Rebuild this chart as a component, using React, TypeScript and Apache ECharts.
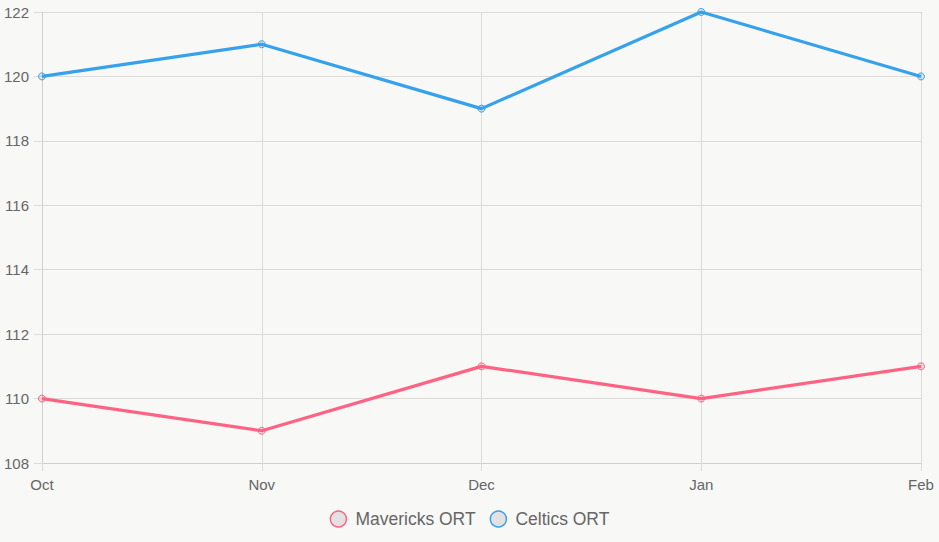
import React, { useEffect, useRef } from "react";
import * as echarts from "echarts";

const categories = ["Oct", "Nov", "Dec", "Jan", "Feb"];
const mavericks = [110, 109, 111, 110, 111];
const celtics = [120, 121, 119, 122, 120];
const yMin = 108;
const yMax = 122;
const yInterval = 2;

export default function App() {
  const ref = useRef<HTMLDivElement>(null);
  useEffect(() => {
    if (!ref.current) return;
    const chart = echarts.init(ref.current, null, { renderer: "svg" });
    const font = "'Liberation Sans', Arial, Helvetica, sans-serif";
    chart.setOption({
      animation: false,
      backgroundColor: "#f8f8f6",
      textStyle: { fontFamily: font },
      grid: { left: 42, right: 18, top: 12, bottom: 79, containLabel: false },
      legend: {
        bottom: 9,
        left: "center",
        itemWidth: 16,
        itemHeight: 16,
        itemGap: 14,
        icon: "circle",
        textStyle: { color: "#666", fontSize: 17.5, fontFamily: font, padding: [0, 0, 0, 4] },
        data: [
          { name: "Mavericks ORT", itemStyle: { color: "#e2e2e2", borderColor: "#ff6384", borderWidth: 1.5 } },
          { name: "Celtics ORT", itemStyle: { color: "#e2e2e2", borderColor: "#36a2eb", borderWidth: 1.5 } },
        ],
      },
      xAxis: {
        type: "category",
        data: categories,
        boundaryGap: false,
        axisLine: { show: true, lineStyle: { color: "#cfcfcf", width: 1 } },
        axisTick: { show: true, length: 8, lineStyle: { color: "#dcdcdc" } },
        splitLine: { show: true, lineStyle: { color: "#dcdcdc", width: 1 } },
        axisLabel: { color: "#666", fontSize: 15, margin: 14, fontFamily: font },
      },
      yAxis: {
        type: "value",
        min: yMin,
        max: yMax,
        interval: yInterval,
        axisLine: { show: true, lineStyle: { color: "#cfcfcf", width: 1 } },
        axisTick: { show: true, length: 8, lineStyle: { color: "#dcdcdc" } },
        splitLine: { show: true, lineStyle: { color: "#dcdcdc", width: 1 } },
        axisLabel: { color: "#666", fontSize: 15, margin: 13, fontFamily: font },
      },
      series: [
        {
          name: "Mavericks ORT",
          type: "line",
          data: mavericks,
          symbol: "circle",
          symbolSize: 7,
          lineStyle: { color: "#ff6384", width: 3.2 },
          itemStyle: { color: "rgba(255,99,132,0.2)", borderColor: "#ff6384", borderWidth: 1 },
        },
        {
          name: "Celtics ORT",
          type: "line",
          data: celtics,
          symbol: "circle",
          symbolSize: 7,
          lineStyle: { color: "#36a2eb", width: 3.2 },
          itemStyle: { color: "rgba(54,162,235,0.2)", borderColor: "#36a2eb", borderWidth: 1 },
        },
      ],
    });
    return () => chart.dispose();
  }, []);
  return (
    <div
      ref={ref}
      style={{ position: "fixed", left: 0, top: 0, width: 939, height: 542 }}
    />
  );
}
